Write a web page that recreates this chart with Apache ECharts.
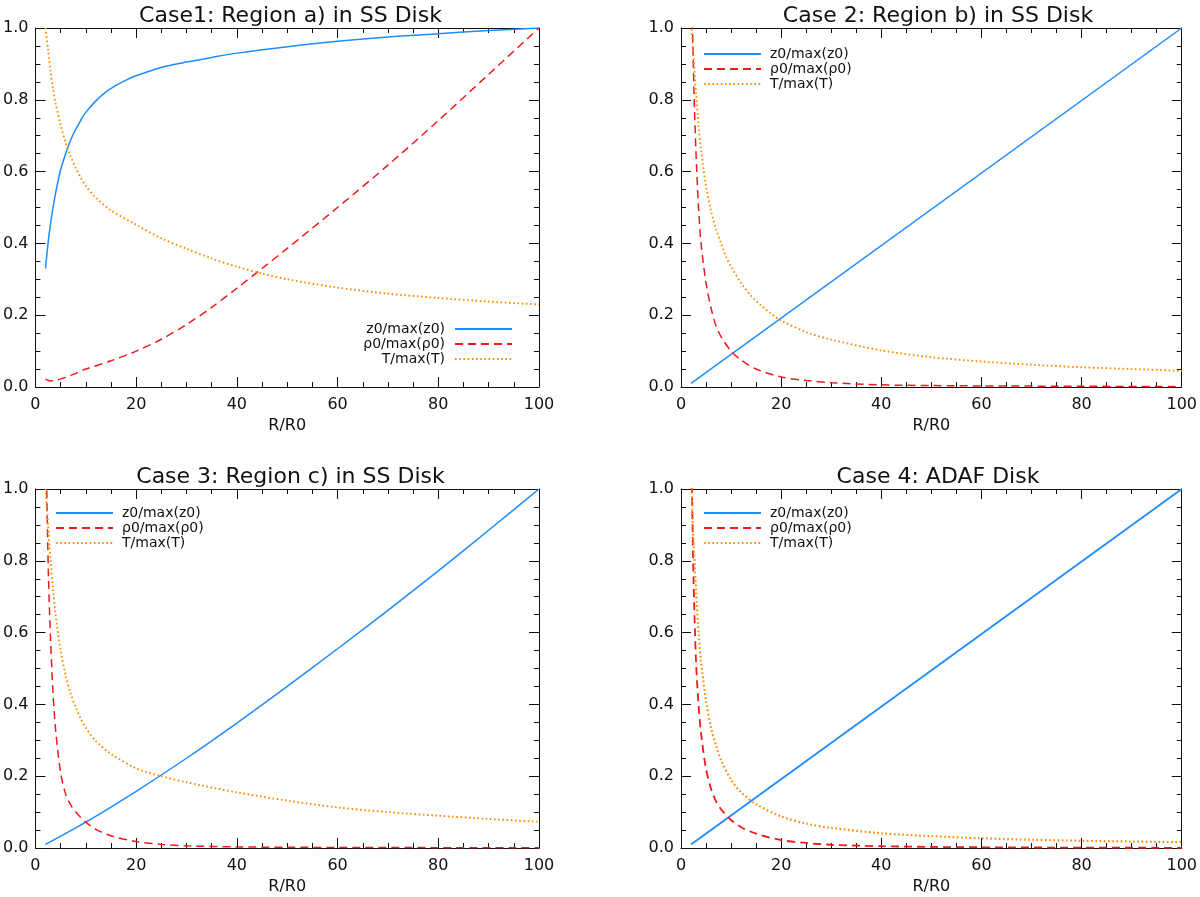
<!DOCTYPE html>
<html>
<head>
<meta charset="utf-8">
<title>Disk profiles</title>
<script src="https://cdn.jsdelivr.net/npm/echarts@6/dist/echarts.min.js"></script>
<style>
  html, body { margin: 0; padding: 0; background: #fff; }
  #chart { width: 1200px; height: 897px; }
</style>
</head>
<body>
<div id="chart"></div>
<script>
"use strict";

// panel titles and legend labels
var titles = ["Case1: Region a) in SS Disk", "Case 2: Region b) in SS Disk",
              "Case 3: Region c) in SS Disk", "Case 4: ADAF Disk"];
var names = ["z0/max(z0)", "\u03c10/max(\u03c10)", "T/max(T)"];

// case 1
var c1zX = [2, 2.5, 3, 3.5, 4, 5, 6, 7, 8, 9, 10, 12, 14, 16, 18, 20, 25, 30, 35, 40, 50, 60, 70, 80, 90, 100];
var c1zY = [0.33, 0.40, 0.455, 0.50, 0.54, 0.605, 0.65, 0.688, 0.718, 0.743, 0.765, 0.797, 0.822, 0.84, 0.855, 0.867, 0.89, 0.905, 0.918, 0.93, 0.948, 0.963, 0.975, 0.984, 0.993, 1.0];
var c1rX = [2, 3, 4, 6, 8, 10, 15, 20, 25, 30, 35, 40, 45, 50, 60, 70, 80, 90, 100];
var c1rY = [0.022, 0.017, 0.018, 0.027, 0.038, 0.05, 0.073, 0.1, 0.133, 0.174, 0.222, 0.275, 0.33, 0.386, 0.5, 0.618, 0.742, 0.871, 1.0];
var c1tX = [2, 2.5, 3, 3.5, 4, 5, 6, 7, 8, 9, 10, 12, 15, 20, 25, 30, 35, 40, 45, 50, 60, 70, 80, 90, 100];
var c1tY = [1.0, 0.94, 0.88, 0.83, 0.79, 0.73, 0.68, 0.642, 0.61, 0.583, 0.56, 0.527, 0.492, 0.452, 0.414, 0.385, 0.358, 0.335, 0.316, 0.3, 0.277, 0.26, 0.248, 0.238, 0.23];

// case 2
var c2zX = [2, 100];
var c2zY = [0.01, 1.0];
var c2rX = [2, 2.3, 2.6, 3, 3.5, 4, 5, 6, 7, 8, 10, 12, 15, 20, 25, 30, 40, 50, 60, 80, 100];
var c2rY = [1.2, 1.0, 0.82, 0.65, 0.5, 0.4, 0.29, 0.22, 0.17, 0.14, 0.1, 0.075, 0.05, 0.028, 0.018, 0.012, 0.006, 0.004, 0.003, 0.002, 0.001];
var c2tX = [2, 2.5, 3, 3.5, 4, 5, 6, 7, 8, 9, 10, 12, 14, 16, 18, 20, 25, 30, 40, 50, 60, 70, 80, 90, 100];
var c2tY = [1.02, 0.92, 0.82, 0.73, 0.66, 0.56, 0.49, 0.44, 0.40, 0.363, 0.335, 0.29, 0.254, 0.227, 0.204, 0.185, 0.153, 0.132, 0.102, 0.083, 0.071, 0.062, 0.055, 0.05, 0.045];

// case 3
var c3zX = [2, 10, 20, 30, 40, 50, 60, 70, 80, 90, 100];
var c3zY = [0.01, 0.072, 0.158, 0.25, 0.348, 0.45, 0.555, 0.662, 0.772, 0.885, 1.0];
var c3rX = [2, 2.3, 2.6, 3, 3.5, 4, 5, 6, 7, 8, 10, 12, 15, 20, 25, 30, 40, 50, 60, 80, 100];
var c3rY = [1.25, 0.95, 0.75, 0.58, 0.43, 0.33, 0.21, 0.15, 0.12, 0.1, 0.072, 0.052, 0.034, 0.018, 0.01, 0.006, 0.003, 0.002, 0.0015, 0.001, 0.0005];
var c3tX = [2, 2.5, 3, 3.5, 4, 5, 6, 7, 8, 9, 10, 12, 15, 20, 25, 30, 40, 50, 60, 70, 80, 90, 100];
var c3tY = [1.0, 0.9, 0.8, 0.72, 0.65, 0.55, 0.48, 0.43, 0.392, 0.36, 0.335, 0.298, 0.262, 0.222, 0.2, 0.183, 0.155, 0.132, 0.113, 0.1, 0.09, 0.081, 0.073];

// case 4
var c4zX = [2, 100];
var c4zY = [0.01, 1.0];
var c4rX = [2, 2.2, 2.5, 3, 3.5, 4, 5, 6, 7, 8, 10, 12, 15, 20, 25, 30, 40, 50, 60, 80, 100];
var c4rY = [1.3, 1.0, 0.75, 0.52, 0.4, 0.32, 0.22, 0.165, 0.13, 0.108, 0.078, 0.058, 0.04, 0.022, 0.014, 0.009, 0.005, 0.003, 0.002, 0.001, 0.0005];
var c4tX = [2, 2.3, 2.6, 3, 3.5, 4, 5, 6, 7, 8, 10, 12, 15, 20, 25, 30, 40, 50, 60, 70, 80, 90, 100];
var c4tY = [1.05, 0.92, 0.82, 0.72, 0.6, 0.52, 0.41, 0.335, 0.285, 0.245, 0.19, 0.155, 0.122, 0.088, 0.068, 0.056, 0.041, 0.033, 0.027, 0.023, 0.02, 0.018, 0.016];

var panels = [
    [[c1zX, c1zY], [c1rX, c1rY], [c1tX, c1tY]],
    [[c2zX, c2zY], [c2rX, c2rY], [c2tX, c2tY]],
    [[c3zX, c3zY], [c3rX, c3rY], [c3tX, c3tY]],
    [[c4zX, c4zY], [c4rX, c4rY], [c4tX, c4tY]]
];

(function (window, echarts) {
    var chart = echarts.init(document.querySelector("#chart"));
    var font = "DejaVu Sans";
    var ink = "#111";

    // grid boxes, pixel positions
    var boxes = [
        {left: 32, top: 28, width: 507, height: 359},
        {left: 681, top: 28, width: 504, height: 359},
        {left: 32, top: 489, width: 507, height: 359},
        {left: 681, top: 489, width: 504, height: 359}
    ];
    var colors = ["#1e8cff", "#f01a1a", "#ff8c00"];
    var dashes = ["solid", [8, 5], [1.6, 2.6]];
    var widths = [1.5, 1.5, 1.9];

    var tickLine = {color: ink, width: 1};

    function xAxis(i, pos) {
        return {
            type: "value", gridIndex: i, position: pos,
            min: 0, max: 100, interval: 20,
            name: pos === "bottom" ? "R/R0" : "",
            nameLocation: "middle", nameGap: 31,
            nameTextStyle: {fontFamily: font, fontSize: 16, color: ink},
            axisLine: {show: true, onZero: false, lineStyle: {color: ink, width: 1}},
            axisTick: {show: true, inside: true, length: 10, lineStyle: tickLine},
            minorTick: {show: true, splitNumber: 4, length: 5, lineStyle: tickLine},
            axisLabel: {show: pos === "bottom", margin: 10, fontFamily: font, fontSize: 16, color: ink},
            splitLine: {show: false}
        };
    }

    function yAxis(i, pos) {
        return {
            type: "value", gridIndex: i, position: pos,
            min: 0, max: 1, interval: 0.2,
            axisLine: {show: true, onZero: false, lineStyle: {color: ink, width: 1}},
            axisTick: {show: true, inside: true, length: 10, lineStyle: tickLine},
            minorTick: {show: true, splitNumber: 4, length: 5, lineStyle: tickLine},
            axisLabel: {
                show: pos === "left", margin: 7, fontFamily: font, fontSize: 16, color: ink,
                formatter: function (v) { return v.toFixed(1); }
            },
            splitLine: {show: false}
        };
    }

    var grids = [], xs = [], ys = [], series = [], title = [], legend = [];

    // legend placement per panel
    var legendPos = [
        {right: 1200 - 513, top: 322, align: "right"},
        {left: 703, top: 47, align: "left"},
        {left: 55, top: 506, align: "left"},
        {left: 703, top: 506, align: "left"}
    ];

    boxes.forEach(function (b, i) {
        grids.push(b);
        xs.push(xAxis(i, "bottom"));
        xs.push(xAxis(i, "top"));
        ys.push(yAxis(i, "left"));
        ys.push(yAxis(i, "right"));

        title.push({
            text: titles[i],
            left: b.left + b.width / 2,
            top: b.top - 28,
            textAlign: "center",
            textStyle: {fontFamily: font, fontSize: 22, fontWeight: "normal", color: ink}
        });

        var lp = legendPos[i];
        var lg = {
            orient: "vertical", top: lp.top, align: lp.align,
            itemWidth: 57, itemHeight: 14, itemGap: 1, padding: 0,
            selectedMode: false,
            data: names.slice(),
            itemStyle: {opacity: 0, color: "transparent", borderWidth: 0},
            textStyle: {
                fontFamily: font, fontSize: 14, color: ink,
                padding: lp.align === "right" ? [0, 5, 0, 0] : [0, 0, 0, 4]
            }
        };
        if (lp.left !== undefined) lg.left = lp.left; else lg.right = lp.right;
        legend.push(lg);

        panels[i].forEach(function (pair, k) {
            var pts = pair[0].map(function (x, j) { return [x, pair[1][j]]; });
            series.push({
                type: "line",
                name: names[k],
                xAxisIndex: i * 2,
                yAxisIndex: i * 2,
                data: pts,
                showSymbol: false,
                symbol: "none",
                smooth: 0.3,
                clip: true,
                lineStyle: {color: colors[k], width: widths[k] + (i === 3 ? 0.3 : 0), type: dashes[k]},
                itemStyle: {color: colors[k]}
            });
        });
    });

    chart.setOption({
        animation: false,
        backgroundColor: "#fff",
        title: title,
        legend: legend,
        grid: grids,
        xAxis: xs,
        yAxis: ys,
        series: series
    });
}(window, echarts));
</script>
</body>
</html>
